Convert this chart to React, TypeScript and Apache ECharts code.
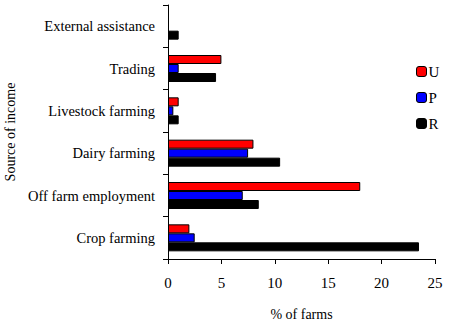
import React, { useEffect, useRef } from "react";
import * as echarts from "echarts";

const categories = [
  "Crop farming",
  "Off farm employment",
  "Dairy farming",
  "Livestock farming",
  "Trading",
  "External assistance",
];
const seriesU = [2, 18, 8, 1, 5, 0];
const seriesP = [2.5, 7, 7.5, 0.5, 1, 0];
const seriesR = [23.5, 8.5, 10.5, 1, 4.5, 1];
const xTicks = [0, 5, 10, 15, 20, 25];

const FONT = "'Liberation Serif', 'Times New Roman', serif";

export default function App() {
  const ref = useRef<HTMLDivElement>(null);
  useEffect(() => {
    document.body.style.margin = "0";
    if (!ref.current) return;
    const chart = echarts.init(ref.current, undefined, { renderer: "svg" });
    const mk = (name: string, data: number[], color: string) => ({
      name,
      type: "bar",
      data: data.map((v) => (v === 0 ? null : v)),
      barWidth: 9,
      barGap: "0%",
      itemStyle: { color, borderColor: "#000", borderWidth: 1 },
    });
    chart.setOption({
      animation: false,
      backgroundColor: "#fff",
      textStyle: { fontFamily: FONT },
      grid: { left: 168, right: 14, top: 5, bottom: 65, containLabel: false, outerBoundsMode: "none" },
      legend: {
        orient: "vertical",
        left: 411,
        top: 59,
        itemWidth: 10,
        itemHeight: 10,
        itemGap: 11,
        data: ["U", "P", "R"],
        textStyle: { fontFamily: FONT, fontSize: 15, color: "#000", padding: [0, 0, 0, -3] },
        itemStyle: { borderColor: "#000", borderWidth: 1 },
      },
      xAxis: {
        type: "value",
        min: xTicks[0],
        max: xTicks[xTicks.length - 1],
        interval: 5,
        name: "% of farms",
        nameLocation: "middle",
        nameGap: 48,
        nameTextStyle: { fontFamily: FONT, fontSize: 14, color: "#000" },
        axisLine: { show: true, lineStyle: { color: "#000", width: 1 } },
        axisTick: { show: true, length: 5, lineStyle: { color: "#000" } },
        axisLabel: { fontFamily: FONT, fontSize: 15, color: "#000", margin: 16 },
        splitLine: { show: false },
      },
      yAxis: {
        type: "category",
        data: categories,
        name: "Source of income",
        nameLocation: "middle",
        nameGap: 150,
        nameTextStyle: { fontFamily: FONT, fontSize: 14, color: "#000" },
        axisLine: { show: true, lineStyle: { color: "#000", width: 1 } },
        axisTick: { show: true, length: 5, lineStyle: { color: "#000" } },
        axisLabel: { fontFamily: FONT, fontSize: 14.5, color: "#000", margin: 13 },
      },
      series: [mk("U", seriesU, "#FF0000"), mk("P", seriesP, "#0000FF"), mk("R", seriesR, "#000000")],
    });
    return () => chart.dispose();
  }, []);
  return <div ref={ref} style={{ width: 449, height: 324 }} />;
}
